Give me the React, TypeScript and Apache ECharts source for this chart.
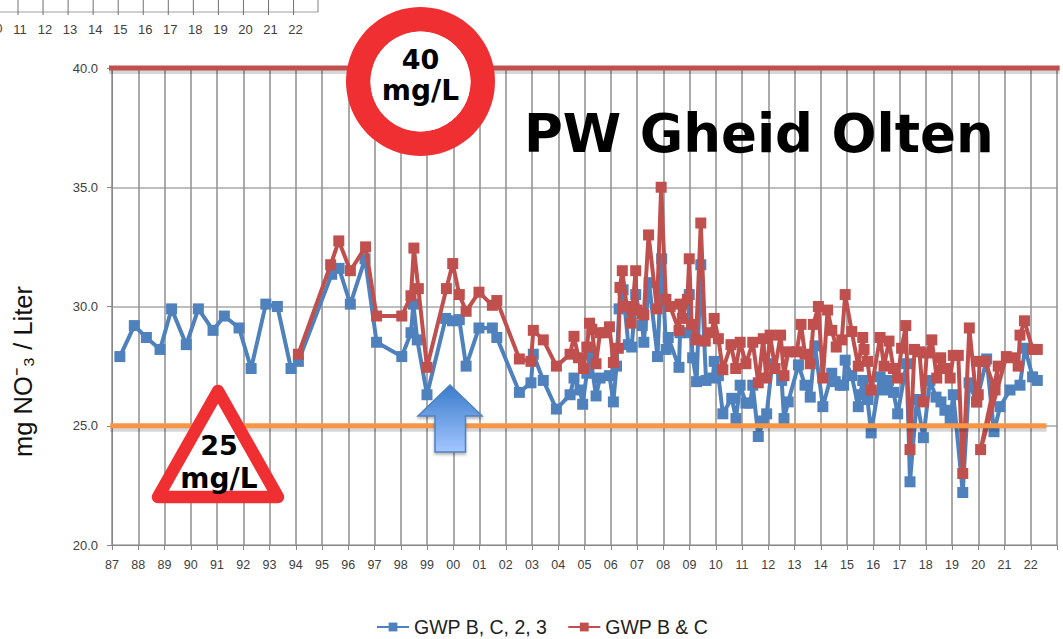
import React, { useEffect, useRef } from "react";
import * as echarts from "echarts";

const blueYears = [1987.30,1987.85,1988.31,1988.83,1989.27,1989.83,1990.29,1990.85,1991.28,1991.84,1992.30,1992.86,1993.30,1993.82,1994.10,1995.37,1995.65,1996.08,1996.64,1997.08,1998.04,1998.39,1998.48,1998.63,1999.00,1999.71,1999.97,2000.23,2000.49,2000.98,2001.49,2001.66,2002.52,2002.96,2003.05,2003.43,2003.93,2004.45,2004.60,2004.83,2004.93,2005.09,2005.21,2005.44,2005.59,2005.95,2006.10,2006.22,2006.32,2006.47,2006.67,2006.80,2006.95,2007.20,2007.26,2007.46,2007.78,2007.94,2008.11,2008.19,2008.60,2008.64,2008.95,2008.99,2009.12,2009.27,2009.43,2009.63,2009.89,2009.94,2010.10,2010.27,2010.61,2010.77,2010.93,2011.15,2011.31,2011.41,2011.62,2011.81,2011.94,2012.15,2012.51,2012.60,2012.76,2013.15,2013.40,2013.60,2013.78,2014.08,2014.42,2014.55,2014.74,2014.87,2014.93,2015.18,2015.43,2015.50,2015.60,2015.78,2015.92,2016.26,2016.39,2016.58,2016.77,2016.93,2017.27,2017.40,2017.66,2017.91,2018.16,2018.39,2018.58,2018.73,2018.93,2019.05,2019.41,2019.65,2019.94,2020.32,2020.60,2020.83,2021.21,2021.59,2021.78,2022.07,2022.25];
const blueValues = [27.9,29.2,28.7,28.2,29.9,28.4,29.9,29.0,29.6,29.1,27.4,30.1,30.0,27.4,27.7,31.35,31.6,30.1,32.0,28.5,27.9,28.9,30.1,28.6,26.3,29.5,29.4,29.45,27.5,29.1,29.1,28.7,26.4,26.8,28.0,26.9,25.7,26.3,27.0,26.5,25.9,27.2,28.0,26.25,27.0,27.1,26.0,27.5,29.9,30.7,28.4,28.3,30.5,29.2,28.5,31.0,27.9,32.0,28.2,28.7,27.45,28.9,28.9,30.5,27.85,26.85,31.75,26.9,27.0,27.7,27.1,25.5,26.15,25.3,26.7,25.95,25.95,26.7,24.55,25.2,25.5,27.6,26.9,25.3,26.0,27.55,26.7,26.2,28.35,25.8,27.2,26.85,26.7,26.7,27.75,27.1,25.8,26.3,26.9,26.1,24.7,27.05,26.5,26.9,26.4,25.5,27.6,22.65,26.1,24.5,26.9,26.2,26.0,25.65,25.25,26.3,22.2,26.8,26.0,27.8,24.75,25.8,26.5,26.7,28.25,27.05,26.9];

const redYears = [1994.10,1995.33,1995.64,1996.08,1996.66,1997.08,1998.04,1998.39,1998.50,1998.67,1999.00,1999.74,1999.98,2000.23,2000.49,2000.98,2001.49,2001.66,2002.52,2002.96,2003.05,2003.43,2003.93,2004.45,2004.60,2004.77,2004.96,2005.09,2005.19,2005.28,2005.44,2005.59,2005.78,2005.95,2006.10,2006.29,2006.35,2006.44,2006.61,2006.77,2006.95,2006.99,2007.20,2007.26,2007.44,2007.76,2007.92,2008.10,2008.26,2008.60,2008.64,2008.73,2008.92,2008.99,2009.08,2009.25,2009.43,2009.60,2009.84,2009.94,2010.10,2010.27,2010.58,2010.76,2010.93,2011.15,2011.41,2011.62,2011.81,2011.92,2012.07,2012.26,2012.47,2012.60,2012.76,2013.08,2013.25,2013.40,2013.60,2013.72,2013.91,2014.08,2014.26,2014.42,2014.59,2014.80,2014.93,2015.18,2015.43,2015.60,2015.65,2015.78,2015.92,2016.26,2016.41,2016.60,2016.77,2016.93,2017.08,2017.24,2017.40,2017.57,2017.76,2017.91,2018.04,2018.23,2018.42,2018.57,2018.73,2018.93,2019.05,2019.24,2019.41,2019.66,2019.94,2020.00,2020.05,2020.26,2020.64,2020.76,2020.09,2021.07,2021.27,2021.52,2021.59,2021.76,2022.07,2022.25];
const redValues = [28.0,31.75,32.75,31.5,32.5,29.6,29.6,30.45,32.45,30.75,27.45,30.75,31.8,30.5,29.8,30.6,30.05,30.25,27.8,27.7,29.0,28.6,27.5,28.0,28.75,27.85,27.4,28.3,29.3,29.05,27.6,28.9,28.9,29.15,27.65,28.25,30.8,31.5,30.0,29.3,31.5,29.85,29.7,29.65,33.0,29.9,35.0,30.3,30.0,29.0,30.1,29.5,30.3,32.0,29.25,28.6,33.5,28.55,28.9,29.5,28.65,27.35,28.4,27.4,28.5,27.6,28.5,26.8,28.65,27.0,28.8,27.4,28.8,27.1,28.1,28.1,29.25,28.0,27.6,29.25,30.0,27.0,29.85,29.0,28.3,28.6,30.5,28.95,27.5,28.7,28.2,27.7,26.5,28.7,27.5,28.55,27.4,27.0,28.25,29.2,24.0,28.2,28.1,26.0,28.05,28.6,27.0,27.85,27.4,27.0,27.95,27.95,23.0,29.1,26.0,26.3,27.7,27.7,26.5,27.5,24.0,27.9,27.85,27.5,28.8,29.4,28.2,28.2];

const limitHighYears = [1986.85, 2023.1];
const limitHighValues = [40, 40];
const limitHighShadow = [39.87, 39.87];
const limitLowYears = [1986.93, 2022.6];
const limitLowValues = [25, 25];
const limitLowShadow = [24.87, 24.87];
const fragmentTicks = ["11","12","13","14","15","16","17","18","19","20","21","22"];

const pairs = (xs: number[], ys: number[]) => xs.map((x, i) => [x, ys[i]]);
const SANS = '"Liberation Sans", Arial, sans-serif';
const BOLD = '"DejaVu Sans", Verdana, sans-serif';

function signText(text: string, x: number, y: number, size: number) {
  return {
    type: "text", x, y, z: 102,
    style: { text, fill: "#000", font: `bold ${size}px ${BOLD}`, textAlign: "center", textVerticalAlign: "middle" },
  };
}

function limitLine(name: string, xs: number[], ys: number[], color: string, width: number, z: number) {
  return {
    name, type: "line", z, clip: false, symbol: "none", silent: true,
    data: pairs(xs, ys),
    lineStyle: { color, width },
  };
}

export default function App() {
  const ref = useRef<HTMLDivElement>(null);
  useEffect(() => {
    document.body.style.margin = "0";
    document.body.style.background = "#fff";
    const chart = echarts.init(ref.current!, null, { renderer: "svg" });

    const fragment: any[] = [
      { type: "line", z: 1, shape: { x1: 0, y1: 12, x2: 318, y2: 12 }, style: { stroke: "#a0a0a0", lineWidth: 1 } },
      { type: "line", z: 1, shape: { x1: 318, y1: 0, x2: 318, y2: 12 }, style: { stroke: "#808080", lineWidth: 1 } },
      { type: "text", x: -12, y: 22, style: { text: "10", fill: "#404040", font: `13px ${SANS}` } },
    ];
    fragmentTicks.forEach((t, i) => {
      const x = 18 + i * 25.05;
      fragment.push({ type: "line", z: 1, shape: { x1: x, y1: 0, x2: x, y2: 15 }, style: { stroke: "#707070", lineWidth: 1 } });
      fragment.push({ type: "text", x: x + 2, y: 29, style: { text: t, fill: "#404040", font: `13px ${SANS}`, textAlign: "center", textVerticalAlign: "middle" } });
    });

    chart.setOption({
      animation: false,
      backgroundColor: "#fff",
      title: {
        text: "PW Gheid Olten",
        left: 519,
        top: 102,
        textStyle: { fontFamily: BOLD, fontWeight: "bold", fontSize: 53, color: "#000" },
        z: 20,
      },
      legend: {
        left: 371,
        top: 612,
        itemWidth: 32,
        itemHeight: 11,
        itemGap: 20,
        data: ["GWP B, C, 2, 3", "GWP B & C"],
        textStyle: { fontFamily: SANS, fontSize: 19.5, color: "#222" },
      },
      grid: { left: 112, right: 6, top: 68, bottom: 94, containLabel: false },
      xAxis: {
        type: "value",
        min: 1987,
        max: 2023,
        interval: 1,
        axisLine: { lineStyle: { color: "#888", width: 1 } },
        axisTick: { show: true, length: 5, lineStyle: { color: "#888" } },
        axisLabel: {
          color: "#404040", fontFamily: SANS, fontSize: 12.5, margin: 13,
          formatter: (v: number) => (v >= 2023 ? "" : String(v % 100).padStart(2, "0")),
        },
        splitLine: { show: true, lineStyle: { color: "#8f8f8f", width: 1.5 } },
      },
      yAxis: {
        type: "value",
        min: 20,
        max: 40,
        interval: 5,
        name: "mg NO⁻₃ / Liter",
        nameLocation: "middle",
        nameGap: 76,
        nameTextStyle: { fontFamily: SANS, fontSize: 25.5, color: "#111", padding: [0, 130, 0, 0] },
        axisLine: { show: true, lineStyle: { color: "#888" } },
        axisTick: { show: true, length: 5, lineStyle: { color: "#888" } },
        axisLabel: {
          color: "#404040", fontFamily: SANS, fontSize: 13, margin: 14,
          formatter: (v: number) => v.toFixed(1),
        },
        splitLine: { show: true, lineStyle: { color: "#a8a8a8", width: 1.5 } },
      },
      series: [
        {
          name: "GWP B, C, 2, 3", type: "line", z: 3,
          data: pairs(blueYears, blueValues),
          symbol: "rect", symbolSize: 11, clip: false,
          lineStyle: { color: "#4F81BD", width: 4 },
          itemStyle: { color: "#4F81BD" },
        },
        {
          name: "GWP B & C", type: "line", z: 4,
          data: pairs(redYears, redValues),
          symbol: "rect", symbolSize: 11, clip: false,
          lineStyle: { color: "#C0504D", width: 4 },
          itemStyle: { color: "#C0504D" },
        },
        limitLine("shadow 40", limitHighYears, limitHighShadow, "rgba(0,0,0,0.16)", 6, 5),
        limitLine("40 mg/L", limitHighYears, limitHighValues, "#C0504D", 5, 6),
        limitLine("shadow 25", limitLowYears, limitLowShadow, "rgba(0,0,0,0.16)", 6, 5),
        limitLine("25 mg/L", limitLowYears, limitLowValues, "#F79646", 5, 6),
      ],
      graphic: [
        ...fragment,
        { type: "ring", z: 100, shape: { cx: 420.5, cy: 81.5, r: 74.5, r0: 50 }, style: { fill: "#F02F33" } },
        { type: "circle", z: 100, shape: { cx: 420.5, cy: 81.5, r: 50 }, style: { fill: "#fff" } },
        signText("40", 420.5, 59, 27),
        signText("mg/L", 420.5, 90, 28),
        {
          type: "polygon", z: 100,
          shape: { points: [[218, 391], [158, 497], [278, 497]] },
          style: { fill: "#fff", stroke: "#F02F33", lineWidth: 12.5, lineJoin: "round" },
        },
        signText("25", 219, 445, 27),
        signText("mg/L", 219, 478, 28),
        {
          type: "polygon", z: 100,
          shape: { points: [[450, 385], [482, 416], [465.5, 416], [465.5, 452], [435, 452], [435, 416], [418, 416]] },
          style: {
            stroke: "#4F81BD", lineWidth: 1.5,
            fill: { type: "linear", x: 0, y: 0, x2: 0, y2: 1, colorStops: [{ offset: 0, color: "#3A7CCB" }, { offset: 1, color: "#A3C6FF" }] },
            shadowBlur: 3, shadowOffsetY: 2, shadowColor: "rgba(0,0,0,0.3)",
          },
        },
      ],
    });
    return () => chart.dispose();
  }, []);
  return <div ref={ref} style={{ position: "fixed", left: 0, top: 0, width: 1063, height: 639 }} />;
}
